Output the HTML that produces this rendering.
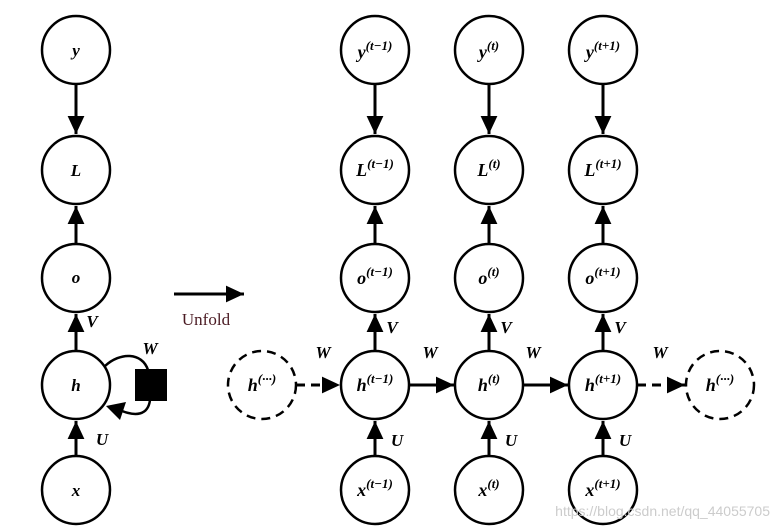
<!DOCTYPE html>
<html><head><meta charset="utf-8"><style>body{margin:0;background:#fff}svg{display:block}</style></head><body>
<svg width="779" height="531" viewBox="0 0 779 531" xmlns="http://www.w3.org/2000/svg" font-family="Liberation Serif, serif">
<defs>
<marker id="a" markerWidth="6" markerHeight="6" refX="6" refY="3" orient="auto" markerUnits="strokeWidth"><path d="M0,0.2 L6,3 L0,5.8 z" fill="#000"/></marker>
</defs>
<g fill="none" stroke="#000" stroke-width="2.5">
<circle cx="76" cy="50" r="34"/><circle cx="76" cy="170" r="34"/><circle cx="76" cy="278" r="34"/><circle cx="76" cy="385" r="34"/><circle cx="76" cy="490" r="34"/>
<g id="c"><circle cx="375" cy="50" r="34"/><circle cx="375" cy="170" r="34"/><circle cx="375" cy="278" r="34"/><circle cx="375" cy="385" r="34"/><circle cx="375" cy="490" r="34"/></g>
<use href="#c" x="114"/><use href="#c" x="228"/>
<circle cx="262" cy="385" r="34" stroke-dasharray="9,6"/><circle cx="720" cy="385" r="34" stroke-dasharray="9,6"/>
</g>
<g stroke="#000" stroke-width="3" marker-end="url(#a)">
<line x1="76" y1="84" x2="76" y2="134"/><line x1="76" y1="244" x2="76" y2="206"/><line x1="76" y1="351" x2="76" y2="314"/><line x1="76" y1="456" x2="76" y2="421"/>
<g id="d"><line x1="375" y1="84" x2="375" y2="134"/><line x1="375" y1="244" x2="375" y2="206"/><line x1="375" y1="351" x2="375" y2="314"/><line x1="375" y1="456" x2="375" y2="421"/></g>
<use href="#d" x="114"/><use href="#d" x="228"/>
<line x1="409" y1="385" x2="454" y2="385"/><line x1="523" y1="385" x2="568" y2="385"/>
<line x1="296" y1="385" x2="340" y2="385" stroke-dasharray="9,6"/><line x1="637" y1="385" x2="685" y2="385" stroke-dasharray="9,6"/>
<line x1="174" y1="294" x2="244" y2="294"/>
</g>
<path d="M105,366 C120,352 142,352 148,370" fill="none" stroke="#000" stroke-width="2.5"/>
<path d="M150,400 C148,416 135,416 122,411" fill="none" stroke="#000" stroke-width="2.5"/>
<polygon points="106,406 126,402 120,420" fill="#000"/>
<rect x="135" y="369" width="32" height="32" fill="#000"/>
<g font-style="italic" font-weight="bold" font-size="17" text-anchor="middle" fill="#000">
<text x="76" y="56">y</text><text x="76" y="176">L</text><text x="76" y="283">o</text><text x="76" y="391">h</text><text x="76" y="496">x</text>
<text x="92" y="327">V</text><text x="150" y="354">W</text><text x="102" y="445">U</text>
<text x="323" y="358">W</text><text x="430" y="358">W</text><text x="533" y="358">W</text><text x="660" y="358">W</text>
<g id="v"><text x="392" y="333">V</text><text x="397" y="446">U</text></g>
<use href="#v" x="114"/><use href="#v" x="228"/>
</g>
<g font-style="italic" font-weight="bold" font-size="18" fill="#000" text-anchor="middle">
<text x="375" y="58">y<tspan font-size="13" dy="-8">(t−1)</tspan></text>
<text x="375" y="176">L<tspan font-size="13" dy="-8">(t−1)</tspan></text>
<text x="375" y="284">o<tspan font-size="13" dy="-8">(t−1)</tspan></text>
<text x="375" y="391">h<tspan font-size="13" dy="-8">(t−1)</tspan></text>
<text x="375" y="496">x<tspan font-size="13" dy="-8">(t−1)</tspan></text>
<text x="489" y="58">y<tspan font-size="13" dy="-8">(t)</tspan></text>
<text x="489" y="176">L<tspan font-size="13" dy="-8">(t)</tspan></text>
<text x="489" y="284">o<tspan font-size="13" dy="-8">(t)</tspan></text>
<text x="489" y="391">h<tspan font-size="13" dy="-8">(t)</tspan></text>
<text x="489" y="496">x<tspan font-size="13" dy="-8">(t)</tspan></text>
<text x="603" y="58">y<tspan font-size="13" dy="-8">(t+1)</tspan></text>
<text x="603" y="176">L<tspan font-size="13" dy="-8">(t+1)</tspan></text>
<text x="603" y="284">o<tspan font-size="13" dy="-8">(t+1)</tspan></text>
<text x="603" y="391">h<tspan font-size="13" dy="-8">(t+1)</tspan></text>
<text x="603" y="496">x<tspan font-size="13" dy="-8">(t+1)</tspan></text>
<text x="262" y="391">h<tspan font-size="13" dy="-8">(···)</tspan></text>
<text x="720" y="391">h<tspan font-size="13" dy="-8">(···)</tspan></text>
</g>
<text x="206" y="325" font-size="17" fill="#4a1a22" text-anchor="middle">Unfold</text>
<text x="770" y="516" font-size="14" fill="#ccc" text-anchor="end" font-family="Liberation Sans, sans-serif">https://blog.csdn.net/qq_44055705</text>
</svg>
</body></html>
